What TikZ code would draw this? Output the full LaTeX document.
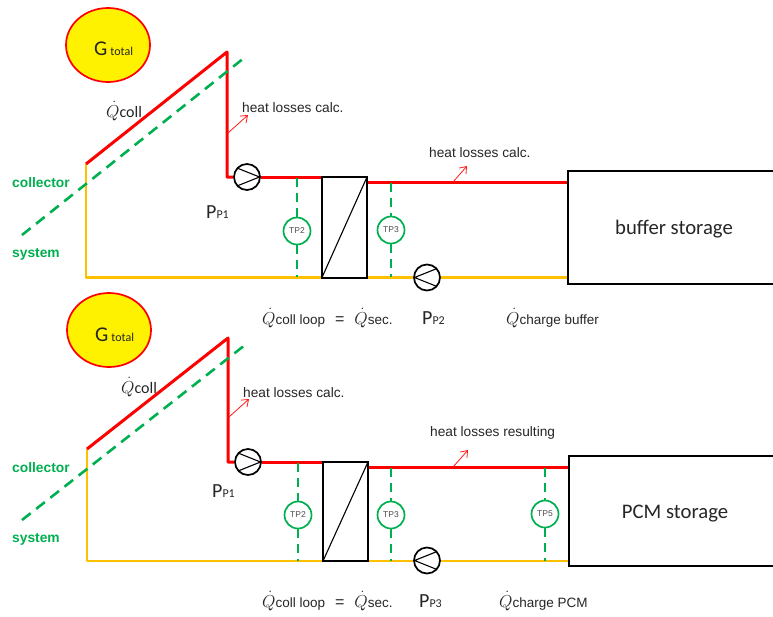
\documentclass[tikz,border=0pt]{standalone}
\usepackage{fontspec}
\setmainfont{Liberation Sans}
\newfontfamily\calf{Carlito}
\usetikzlibrary{arrows.meta,shapes.geometric}
\definecolor{gr}{RGB}{0,176,80}
\definecolor{yl}{RGB}{255,192,0}
\definecolor{txt}{RGB}{38,38,38}
\tikzset{
 x=1pt,y=-1pt,
 hot/.style={draw=red,line width=3pt,line join=round},
 cold/.style={draw=yl,line width=2.8pt,line join=round},
 bound/.style={draw=gr,line width=2.6pt,dash pattern=on 11pt off 7pt},
 sense/.style={draw=gr,line width=1.5pt,dash pattern=on 9pt off 6pt},
 sun/.style={ellipse,draw=red,fill=yellow,line width=1.7pt,minimum width=84pt,minimum height=74pt,inner sep=0},
 pumpc/.style={circle,draw=black,fill=white,line width=1.7pt,minimum size=26pt,inner sep=0},
 tp/.style={circle,draw=gr,fill=white,line width=1.7pt,minimum size=27pt,inner sep=0,font=\fontsize{8.5}{8.5}\selectfont,text=black!70},
 box/.style={draw=black,line width=2pt,line join=miter},
 loss/.style={draw=red!90,line width=.8pt,-{Straight Barb[length=6pt,width=9pt]}},
 lab/.style={inner sep=0,anchor=west,text=txt,font=\fontsize{13.7}{15}\selectfont},
 sub/.style={inner sep=0,anchor=west,text=txt},
 zone/.style={inner sep=0,anchor=west,text=gr,font=\fontsize{13.8}{15}\selectfont\bfseries},
 thinln/.style={draw=black,line width=1.1pt},
 big/.style={inner sep=0,text=txt,font=\calf\fontsize{20.7}{22}\selectfont},
}
\newcommand{\PP}[2]{{\calf\fontsize{20}{20}\selectfont P}{\fontsize{12}{12}\selectfont\calf #1#2}}
\newcommand{\Qd}{{\fontsize{16}{16}\selectfont$\dot{Q}$}}
\newcommand{\GT}{{\fontsize{21}{21}\selectfont G}\hspace{3pt}{\fontsize{12}{12}\selectfont total}}
\begin{document}
\begin{tikzpicture}
\useasboundingbox (0,0) rectangle (773,616);
\fill[white] (0,0) rectangle (773,616);
% ===== top =====
\node[sun] (s1) at (108,45) {};
\node[sub,font=\calf] (g1) at (94,49) {\GT};
\coordinate (a1) at (86,164);\coordinate (b1) at (227,52);\coordinate (c1) at (227,177);
\coordinate (d1) at (322,177);\coordinate (e1) at (86,277.5);
\node[pumpc,draw=none,fill=none] (p1) at (247,177) {};
\node[pumpc,draw=none,fill=none] (p2) at (427,277.5) {};
\draw[cold] (a1) -- (e1) -- (322,277.5);
\draw[cold] (367,277.5) -- (p2) -- (568,277.5);
\draw[hot] (a1) -- (b1) -- (c1) -- (p1);
\draw[hot] (p1) -- (d1);
\draw[hot] (367,182) -- (568,182);
\draw[bound] (22,235) -- (244,58);
\node[tp] (t2) at (297,231) {TP2};
\node[tp] (t3) at (391,230) {TP3};
\draw[sense] (297,178) -- (t2);\draw[sense] (t2) -- (297,277);
\draw[sense] (391,183) -- (t3);\draw[sense] (t3) -- (391,277);
\draw[box] (322,177) rectangle (367,277.5);
\draw[thinln] (322,277.5) -- (367,177);
\draw[box,fill=white] (568,171) rectangle (775,284);
\node[big] (bs) at (674,229.5) {buffer storage};
\node[pumpc] (p1c) at (247,177) {};
\draw[black,line width=1.1pt] (237,168) -- (259.5,177) -- (237,186);
\node[pumpc] (p2c) at (427,277.5) {};
\draw[black,line width=1.1pt] (437,268.5) -- (414.5,277.5) -- (437,286.5);
\draw[loss] (228,133) -- (248,115);
\draw[loss] (453,182) -- (467,166);
\node[lab] (h1) at (242,108) {heat losses calc.};
\node[lab] (h2) at (429,153) {heat losses calc.};
\node[sub] (q1) at (106,111) {\Qd{\fontsize{16}{16}\selectfont\calf coll}};
\node[sub] (pp1) at (206,212) {\PP{P}{1}};
\node[sub] (pp2) at (422,318) {\PP{P}{2}};
\node[zone] (co1) at (12,183) {collector};
\node[zone] (sy1) at (12,254) {system};
\node[sub] (q2) at (262,318) {\Qd{\fontsize{13.5}{14}\selectfont coll loop}\hspace{10pt}{\fontsize{16}{14}\selectfont =}\hspace{10pt}\Qd{\fontsize{13.5}{14}\selectfont sec.}};
\node[sub] (q3) at (506,318) {\Qd{\fontsize{13.5}{14}\selectfont charge buffer}};
% ===== bottom =====
\node[sun] (s2) at (109,330) {};
\node[sub,font=\calf] (g2) at (95,335) {\GT};
\coordinate (a2) at (87,449);\coordinate (b2) at (228,338);\coordinate (c2) at (228,462);
\coordinate (d2) at (323,462);\coordinate (e2) at (87,561);
\node[pumpc,draw=none,fill=none] (p3) at (248,462) {};
\node[pumpc,draw=none,fill=none] (p4) at (427,561) {};
\draw[cold] (a2) -- (e2) -- (323,561);
\draw[cold] (368,561) -- (569,561);
\draw[hot] (a2) -- (b2) -- (c2) -- (p3);
\draw[hot] (p3) -- (d2);
\draw[hot] (368,467) -- (569,467);
\draw[bound] (22,520) -- (245,345);
\node[tp] (t4) at (298,515) {TP2};
\node[tp] (t5) at (391,515) {TP3};
\node[tp] (t6) at (545,514) {TP5};
\draw[sense] (298,463) -- (t4);\draw[sense] (t4) -- (298,561);
\draw[sense] (391,468) -- (t5);\draw[sense] (t5) -- (391,561);
\draw[sense] (545,468) -- (t6);\draw[sense] (t6) -- (545,561);
\draw[box] (323,462) rectangle (368,561);
\draw[thinln] (323,561) -- (368,462);
\draw[box,fill=white] (569,456) rectangle (775,566);
\node[big] (ps) at (675,514) {PCM storage};
\node[pumpc] (p3c) at (248,462) {};
\draw[black,line width=1.1pt] (238,453) -- (260.5,462) -- (238,471);
\node[pumpc] (p4c) at (427,560.5) {};
\draw[black,line width=1.1pt] (437,551.5) -- (414.5,560.5) -- (437,569.5);
\draw[loss] (229,417) -- (249,399);
\draw[loss] (453,467) -- (468,450);
\node[lab] (h3) at (243,393) {heat losses calc.};
\node[lab] (h4) at (430,433) {heat losses resulting};
\node[sub] (q4) at (121,387) {\Qd{\fontsize{16}{16}\selectfont\calf coll}};
\node[sub] (pp3) at (212,491) {\PP{P}{1}};
\node[sub] (pp4) at (419,601) {\PP{P}{3}};
\node[zone] (co2) at (12,468) {collector};
\node[zone] (sy2) at (12,539) {system};
\node[sub] (q5) at (262,601) {\Qd{\fontsize{13.5}{14}\selectfont coll loop}\hspace{10pt}{\fontsize{16}{14}\selectfont =}\hspace{10pt}\Qd{\fontsize{13.5}{14}\selectfont sec.}};
\node[sub] (q6) at (499,601) {\Qd{\fontsize{13.5}{14}\selectfont charge PCM}};
\end{tikzpicture}
\end{document}
